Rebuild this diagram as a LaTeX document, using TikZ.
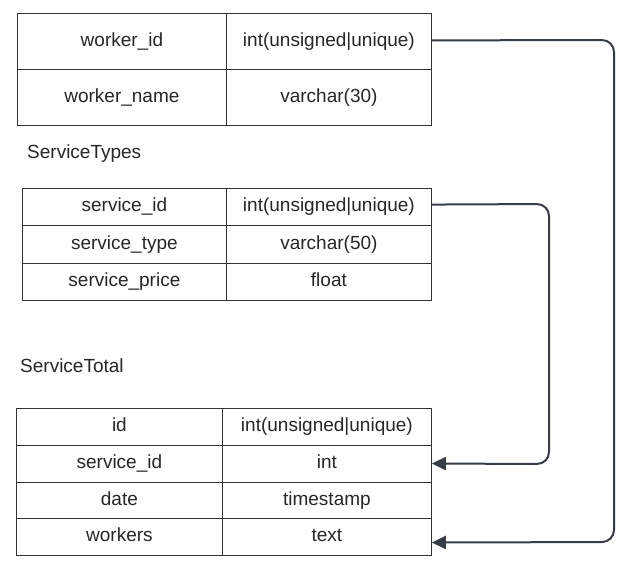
\documentclass[tikz,border=0pt]{standalone}
\usepackage{fontspec}
\setmainfont{Liberation Sans}
\usetikzlibrary{arrows.meta,calc}
\definecolor{linec}{HTML}{363D47}
\definecolor{cellc}{HTML}{333333}
\definecolor{textc}{HTML}{262626}
\begin{document}
\begin{tikzpicture}[x=1pt,y=-1pt,
  cell/.style={draw=cellc, line width=0.8pt, anchor=north west, inner sep=0pt,
    text height=13.5pt, text depth=4pt,
    text=textc, font=\fontsize{19}{22}\selectfont},
  title/.style={anchor=west, inner sep=0pt, text=textc, font=\fontsize{19}{22}\selectfont},
  conn/.style={draw=linec, line width=2pt, rounded corners=12pt,
    -{Triangle[length=14pt,width=13pt]}}]
\useasboundingbox (0,0) rectangle (631,570);
% Table 1
\node[cell, minimum width=209pt, minimum height=56pt] (w11) at (17,13) {worker\_id};
\node[cell, minimum width=205pt, minimum height=56pt] (w12) at (226,13) {int(unsigned|unique)};
\node[cell, minimum width=209pt, minimum height=56pt] (w21) at (17,69) {worker\_name};
\node[cell, minimum width=205pt, minimum height=56pt] (w22) at (226,69) {varchar(30)};
% Title 2
\node[title] (t2title) at (27,154) {ServiceTypes};
% Table 2
\node[cell, minimum width=204pt, minimum height=37.33pt] (s11) at (22,188) {service\_id};
\node[cell, minimum width=205pt, minimum height=37.33pt] (s12) at (226,188) {int(unsigned|unique)};
\node[cell, minimum width=204pt, minimum height=37.33pt] (s21) at (22,225.33) {service\_type};
\node[cell, minimum width=205pt, minimum height=37.33pt] (s22) at (226,225.33) {varchar(50)};
\node[cell, minimum width=204pt, minimum height=37.33pt] (s31) at (22,262.67) {service\_price};
\node[cell, minimum width=205pt, minimum height=37.33pt] (s32) at (226,262.67) {float};
% Title 3
\node[title] (t3title) at (20,366) {ServiceTotal};
% Table 3
\node[cell, minimum width=206pt, minimum height=36.75pt] (t11) at (16,408) {id};
\node[cell, minimum width=209pt, minimum height=36.75pt] (t12) at (222,408) {int(unsigned|unique)};
\node[cell, minimum width=206pt, minimum height=36.75pt] (t21) at (16,444.75) {service\_id};
\node[cell, minimum width=209pt, minimum height=36.75pt] (t22) at (222,444.75) {int};
\node[cell, minimum width=206pt, minimum height=36.75pt] (t31) at (16,481.5) {date};
\node[cell, minimum width=209pt, minimum height=36.75pt] (t32) at (222,481.5) {timestamp};
\node[cell, minimum width=206pt, minimum height=36.75pt] (t41) at (16,518.25) {workers};
\node[cell, minimum width=209pt, minimum height=36.75pt] (t42) at (222,518.25) {text};
% Connectors
\coordinate (c1) at ($(w12.east)+(0,-1)$);
\coordinate (e1) at ($(t42.east)+(0,5.5)$);
\draw[conn] (c1) -- (614,40) -- (614,542) -- (e1);
\coordinate (c2) at ($(s12.east)+(0,-2.5)$);
\draw[conn] (c2) -- (549,204) -- (549,464) -- (t22.east);
\end{tikzpicture}
\end{document}
